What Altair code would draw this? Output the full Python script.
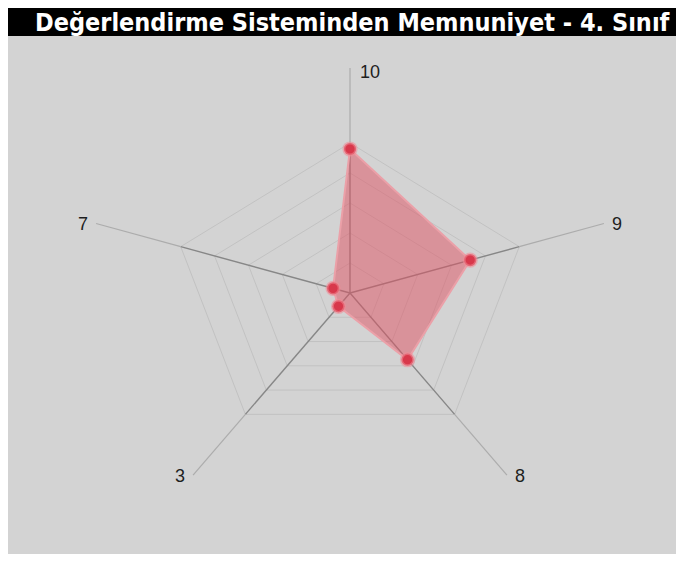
import altair as alt
import pandas as pd

# ---- data ----
categories = ["10", "9", "8", "3", "7"]
values = [9.6, 7.1, 5.5, 1.1, 1.0]
grid_levels = [2, 4, 6, 8, 10]
max_value = 10
title_text = "Değerlendirme Sisteminden Memnuniyet - 4. Sınıf"

# ---- layout ----
n = len(categories)
W, H = 668, 546
cx, cy = 342, 285      # centre of the radar in chart pixels
rx, ry = 178, 150      # outer-ring radius (px) horizontally / vertically
spoke_ext = 1.5        # how far spokes run past the outer ring

xs = alt.Scale(domain=[-cx / rx, (W - cx) / rx], nice=False, zero=False)
ys = alt.Scale(domain=[-(H - cy) / ry, cy / ry], nice=False, zero=False)

ang = f"datum.idx * 2 * PI / {n}"

poly_df = pd.DataFrame({"cat": categories, "value": values, "idx": list(range(n))})
spoke_df = pd.DataFrame({"cat": categories, "idx": list(range(n))})
grid_rows = []
for lv in grid_levels:
    for k in range(n + 1):
        grid_rows.append({"level": lv, "k": k, "idx": k % n})
grid_df = pd.DataFrame(grid_rows)

X = lambda f: alt.X(f, type="quantitative", scale=xs, axis=None)
Y = lambda f: alt.Y(f, type="quantitative", scale=ys, axis=None)

grid = (
    alt.Chart(grid_df)
    .transform_calculate(
        px=f"datum.level / {max_value} * sin({ang})",
        py=f"datum.level / {max_value} * cos({ang})",
    )
    .mark_line(color="#c2c2c2", strokeWidth=1)
    .encode(x=X("px"), y=Y("py"), detail="level:N", order="k:Q")
)

spokes_in = (
    alt.Chart(spoke_df)
    .transform_calculate(
        x0="0", y0="0", x1=f"sin({ang})", y1=f"cos({ang})"
    )
    .mark_rule(color="#878787", strokeWidth=1.4)
    .encode(x=X("x0"), y=Y("y0"), x2="x1:Q", y2="y1:Q")
)

spokes_out = (
    alt.Chart(spoke_df)
    .transform_calculate(
        x0=f"sin({ang})", y0=f"cos({ang})",
        x1=f"{spoke_ext} * sin({ang})", y1=f"{spoke_ext} * cos({ang})",
    )
    .mark_rule(color="#acacac", strokeWidth=1.2)
    .encode(x=X("x0"), y=Y("y0"), x2="x1:Q", y2="y1:Q")
)

poly_base = alt.Chart(poly_df).transform_calculate(
    px=f"datum.value / {max_value} * sin({ang})",
    py=f"datum.value / {max_value} * cos({ang})",
)

polygon = poly_base.mark_line(
    interpolate="linear-closed",
    fill="#e05262",
    fillOpacity=0.5,
    stroke="#eba0a8",
    strokeWidth=2,
).encode(x=X("px"), y=Y("py"), order="idx:Q")

points = poly_base.mark_point(
    filled=True,
    size=150,
    fill="#d8384b",
    stroke="#f08a96",
    strokeWidth=3,
    strokeOpacity=0.55,
    opacity=1,
).encode(x=X("px"), y=Y("py"))

lab_base = alt.Chart(spoke_df).transform_calculate(
    lx=f"{spoke_ext} * sin({ang})",
    ly=f"{spoke_ext} * cos({ang})",
    s=f"sin({ang})",
)
label_style = dict(fontSize=18, font="Liberation Sans", color="#1e1e1e", baseline="middle")

labels_top = lab_base.transform_filter("abs(datum.s) < 0.01").mark_text(
    align="left", dx=10, dy=5, **label_style
).encode(x=X("lx"), y=Y("ly"), text="cat:N")
labels_right = lab_base.transform_filter("datum.s >= 0.01").mark_text(
    align="left", dx=8, dy=2, **label_style
).encode(x=X("lx"), y=Y("ly"), text="cat:N")
labels_left = lab_base.transform_filter("datum.s <= -0.01").mark_text(
    align="right", dx=-8, dy=2, **label_style
).encode(x=X("lx"), y=Y("ly"), text="cat:N")

title_df = pd.DataFrame({"t": [title_text]})
title_bar = alt.Chart(title_df).mark_rect(color="#000000").encode(
    x=alt.value(0), x2=alt.value(W), y=alt.value(0), y2=alt.value(28)
)
title_txt = alt.Chart(title_df).mark_text(
    align="left", baseline="middle", fontSize=25, fontWeight="bold",
    font="DejaVu Sans Condensed", color="#ffffff"
).encode(x=alt.value(27), y=alt.value(15), text="t:N")

chart = (
    alt.layer(
        grid, spokes_in, spokes_out, polygon, points,
        labels_top, labels_right, labels_left, title_bar, title_txt,
    )
    .properties(width=W, height=H, background="#d3d3d3", padding=0,
                autosize=alt.AutoSizeParams(type="none"))
    .configure_view(stroke=None)
)

chart.save("out.html", embed_options={"renderer": "svg", "actions": False})
